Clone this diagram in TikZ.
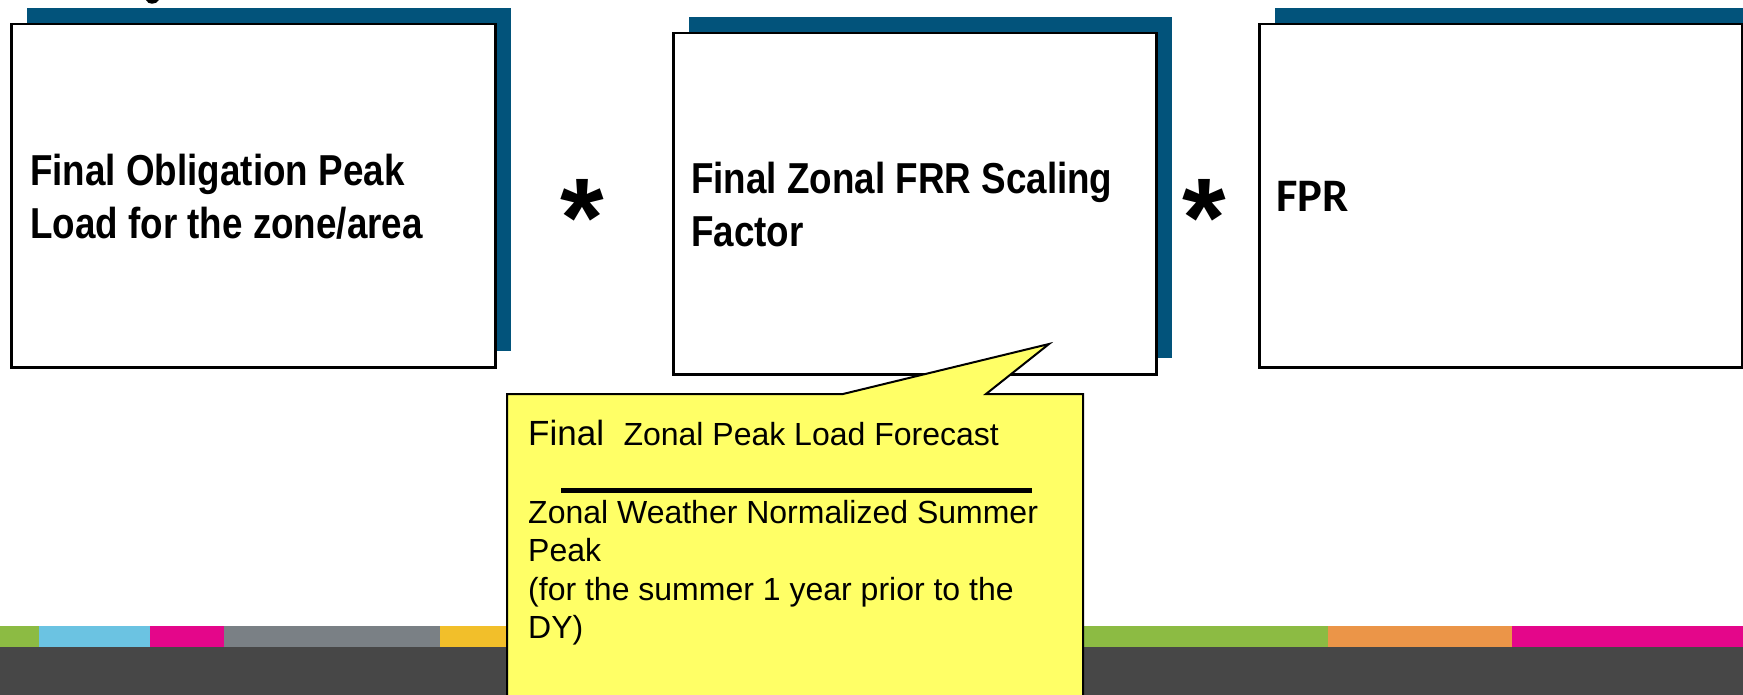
\documentclass[tikz,border=0pt]{standalone}
\usepackage{fontspec}
\setmainfont{Liberation Sans}
\newfontfamily\narrowfont[FakeStretch=0.85]{Liberation Sans}
\newfontfamily\calfont{Carlito}
\usetikzlibrary{shadows}
\definecolor{shadowc}{HTML}{02537B}
\definecolor{bandgreen}{HTML}{8CBB43}
\definecolor{bandblue}{HTML}{6BC3E2}
\definecolor{bandmagenta}{HTML}{E4068A}
\definecolor{bandgray}{HTML}{7A8085}
\definecolor{bandyellow}{HTML}{F2BF2A}
\definecolor{bandorange}{HTML}{EB9548}
\definecolor{banddark}{HTML}{474747}
\definecolor{calloutc}{HTML}{FFFF66}
\tikzset{
  pbox/.style={draw=black, line width=2.5pt, fill=white, anchor=north west, inner sep=0pt,
    drop shadow={shadow xshift=16pt, shadow yshift=16pt, fill=shadowc, opacity=1}},
  boxtext/.style={anchor=north west, inner sep=0pt, align=left,
    font=\narrowfont\bfseries\fontsize{43.3}{53.5}\selectfont},
  timesmark/.style={anchor=north, inner sep=0pt, font=\bfseries\fontsize{112}{112}\selectfont},
  calloutshape/.style={draw=black, line width=2pt, fill=calloutc, line join=miter},
  callouttext/.style={inner sep=0pt, align=left, font=\fontsize{32}{38.5}\selectfont},
}
\begin{document}
\begin{tikzpicture}[x=1pt,y=-1pt]
\useasboundingbox (0,0) rectangle (1743,695);
% bottom band
\fill[banddark] (0,647) rectangle (1743,695);
\fill[bandgreen] (0,626) rectangle (39,647);
\fill[bandblue] (39,626) rectangle (150,647);
\fill[bandmagenta] (150,626) rectangle (224,647);
\fill[bandgray] (224,626) rectangle (440,647);
\fill[bandyellow] (440,626) rectangle (700,647);
\fill[bandgreen] (700,626) rectangle (1328,647);
\fill[bandorange] (1328,626) rectangle (1512,647);
\fill[bandmagenta] (1512,626) rectangle (1743,647);
% title fragment at the top edge
\fill[black] (146,0) .. controls (148,5) and (156,5) .. (159,0) -- cycle;
% boxes
\node[pbox, minimum width=484pt, minimum height=343pt] (b1) at (10,23) {};
\node[pbox, minimum width=483pt, minimum height=341pt] (b2) at (672,32) {};
\node[pbox, minimum width=483pt, minimum height=343pt] (b3) at (1258,23) {};
\node[boxtext] (t1) at (30,153.5) {Final Obligation Peak\\Load for the zone/area};
\node[boxtext] (t2) at (691,161.5) {Final Zonal FRR Scaling\\Factor};
\node[anchor=base west, inner sep=0pt, font=\calfont\bfseries\fontsize{46.6}{50}\selectfont] (t3) at (1276,212) {FPR};
% multiplication signs
\node[timesmark] (m1) at (582,179) {*};
\node[timesmark] (m2) at (1204,179) {*};
% callout
\draw[calloutshape] (507,394) -- (843,394) -- (1049,344) -- (986,394) -- (1083,394) -- (1083,710) -- (507,710) -- cycle;
\node[anchor=base west, inner sep=0pt] (c1) at (528,445)
  {\fontsize{35}{40}\selectfont Final\ \ \fontsize{32}{38.5}\selectfont Zonal Peak Load Forecast};
\coordinate (barL) at (561,490);
\coordinate (barR) at (1032,490);
\draw[line width=5pt] (barL) -- (barR);
\node[callouttext, anchor=north west] (c2) at (528,500)
  {Zonal Weather Normalized Summer\\Peak\\(for the summer 1 year prior to the\\DY)};
\end{tikzpicture}
\end{document}
